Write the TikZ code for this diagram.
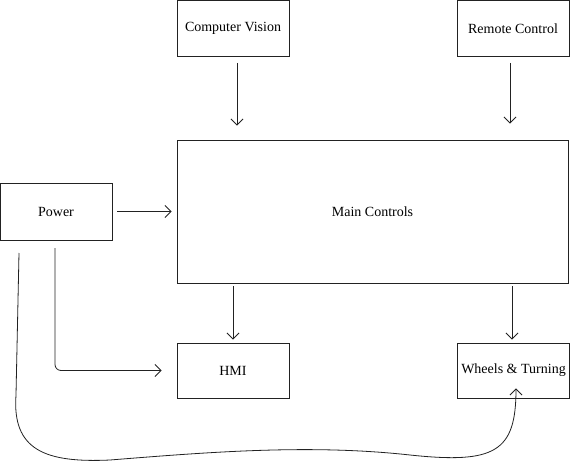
\documentclass[tikz,border=0pt]{standalone}
\usepackage{fontspec}
\setmainfont{Liberation Serif}
\usepackage{xcolor}
\usetikzlibrary{arrows.meta, positioning}
\definecolor{ink}{HTML}{222222}

\begin{document}
\begin{tikzpicture}[x=1pt, y=-1pt,
      box/.style={draw=ink, fill=white, line width=0.9pt,
                  font=\rmfamily\fontsize{14}{16}\selectfont,
                  minimum width=112pt, minimum height=56pt,
                  inner sep=1pt, align=center},
      a/.style={-{Straight Barb[length=6pt, width=12pt]}, draw=ink, line width=0.8pt}]
    \useasboundingbox (0,0) rectangle (571,464);
    \node[box, minimum width=391pt, minimum height=143pt] (mc) at (372.5,211.5) {Main Controls};
    \node[box] (cv) at (233,28.5) {Computer Vision};
    \node[box] (rc) at (513,28.5) {Remote Control};
    \node[box, minimum height=57pt] (pw) at (56,211.5) {Power};
    \node[box, minimum height=55pt] (hmi) at (233,370.5) {HMI};
    \node[box, minimum height=55pt] (wt) at (513.5,370.5) {Wheels \& Turning};
    \coordinate (pw1) at (55,248);
    \coordinate (pw2) at (19,253);
    \draw[a, shorten <=6pt, shorten >=14pt] ([xshift=4pt]cv.south) -- ([xshift=4pt]cv.south |- mc.north);
    \draw[a, shorten <=6pt, shorten >=16pt] ([xshift=-3pt]rc.south) -- ([xshift=-3pt]rc.south |- mc.north);
    \draw[a, shorten <=5pt, shorten >=5pt] (pw) -- (mc);
    \draw[a, shorten <=3pt, shorten >=3pt] (hmi.north |- mc.south) -- (hmi);
    \draw[a, shorten <=3pt, shorten >=3pt] ([xshift=-1.5pt]wt.north |- mc.south) -- ([xshift=-1.5pt]wt.north);
    \draw[a, rounded corners=6pt, shorten >=15pt] (pw1) |- (hmi);
    \draw[a] (pw2) -- (16,395) .. controls (12,450) and (45,463) .. (110,460)
      .. controls (210,452) and (310,444) .. (410,455)
      .. controls (495,464) and (516,452) .. ([xshift=2.5pt,yshift=10pt]wt.south);
  \end{tikzpicture}
\end{document}
